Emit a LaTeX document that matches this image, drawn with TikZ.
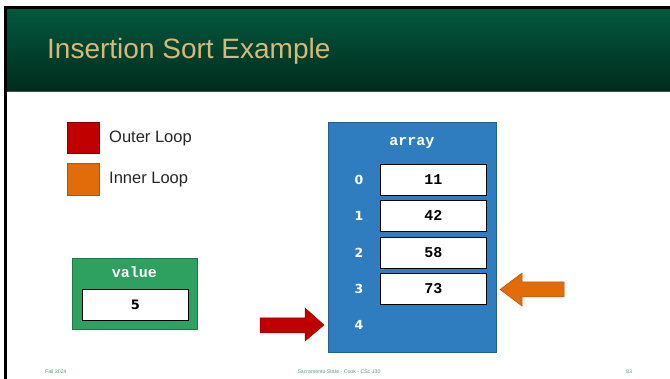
\documentclass[tikz,border=0pt]{standalone}
\usepackage{fontspec}
\setmainfont{Liberation Sans}
\newfontfamily\codefont{Liberation Mono}
\newfontfamily\idxfont{DejaVu Sans}
\usetikzlibrary{positioning}

\definecolor{hdrtop}{RGB}{3,88,62}
\definecolor{hdrbot}{RGB}{0,44,29}
\definecolor{titletan}{RGB}{214,185,122}
\definecolor{outerred}{RGB}{192,0,0}
\definecolor{outerredline}{RGB}{140,0,0}
\definecolor{innerorange}{RGB}{226,107,10}
\definecolor{innerorangeline}{RGB}{182,84,8}
\definecolor{arrblue}{RGB}{47,125,190}
\definecolor{arrblueline}{RGB}{36,94,150}
\definecolor{valgreen}{RGB}{46,160,96}
\definecolor{valgreenline}{RGB}{34,118,70}
\definecolor{footgreen}{RGB}{96,152,128}

\tikzset{
  panel/.style={line width=0.8pt},
  cellbox/.style={draw=black, fill=white, line width=0.9pt, minimum width=106pt,
    minimum height=31pt, inner sep=0pt, anchor=north west,
    font=\codefont\bfseries\fontsize{15}{15}\selectfont},
  idx/.style={text=white, font=\idxfont\bfseries\fontsize{12.5}{12.5}\selectfont},
  legendtext/.style={anchor=west, inner sep=0pt, font=\fontsize{16.5}{16.5}\selectfont, text=black!85},
  codelabel/.style={text=white, font=\codefont\bfseries\fontsize{15}{15}\selectfont},
  foot/.style={text=footgreen, inner sep=0pt, font=\fontsize{5.2}{5.2}\selectfont}
}

\begin{document}
\begin{tikzpicture}[x=1pt, y=-1pt]
  \useasboundingbox (0,0) rectangle (670,379);
  \fill[white] (0,0) rectangle (670,379);

  % title bar with black frame edges
  \shade[top color=hdrtop, bottom color=hdrbot] (7,9) rectangle (670,91);
  \fill[black] (4,6) rectangle (670,9);
  \fill[black] (4,6) rectangle (7,379);
  \draw[black!70, line width=0.6pt] (7,91) -- (670,91);
  \node[anchor=base west, inner sep=0pt, text=titletan,
        font=\fontsize{28}{28}\selectfont] (title) at (47,59) {Insertion Sort Example};

  % legend
  \fill[outerred, draw=outerredline, line width=0.6pt] (67,122) rectangle (99,153);
  \fill[innerorange, draw=innerorangeline, line width=0.6pt] (67,163) rectangle (99,195);
  \node[legendtext] (outer) at (109,138) {Outer Loop};
  \node[legendtext] (inner) at (109,180) {Inner Loop};

  % value variable
  \fill[valgreen, draw=valgreenline, panel] (72,258) rectangle (197,329);
  \node[codelabel] (vallabel) at (134.5,272.5) {value};
  \node[cellbox, minimum width=106pt, minimum height=31pt,
        font=\idxfont\bfseries\fontsize{13}{13}\selectfont] (val) at (82,289) {5};

  % array
  \fill[arrblue, draw=arrblueline, panel] (328,122) rectangle (496,352);
  \node[codelabel] (arrlabel) at (412,143) {array};
  \node[cellbox] (c0) at (380,164) {11};
  \node[cellbox] (c1) at (380,200) {42};
  \node[cellbox] (c2) at (380,237) {58};
  \node[cellbox] (c3) at (380,273) {73};
  \node[idx] (i0) at (359,179.5) {0};
  \node[idx] (i1) at (359,215.5) {1};
  \node[idx] (i2) at (359,252.5) {2};
  \node[idx] (i3) at (359,289) {3};
  \node[idx] (i4) at (359,325) {4};

  % outer loop pointer
  \fill[outerred, draw=outerredline, line width=0.5pt]
    (260,318) -- (305,318) -- (305,308) -- (324,325) -- (305,341)
    -- (305,333) -- (260,333) -- cycle;
  % inner loop pointer
  \fill[innerorange, draw=innerorangeline, line width=0.5pt]
    (564,282) -- (522,282) -- (522,273) -- (500,289.5) -- (522,306)
    -- (522,297) -- (564,297) -- cycle;

  % footer
  \node[foot, anchor=west] (fdate) at (45,372) {Fall 2024};
  \node[foot] (fcourse) at (339,372) {Sacramento State - Cook - CSc 130};
  \node[foot] (fpage) at (629,372) {83};
\end{tikzpicture}
\end{document}
